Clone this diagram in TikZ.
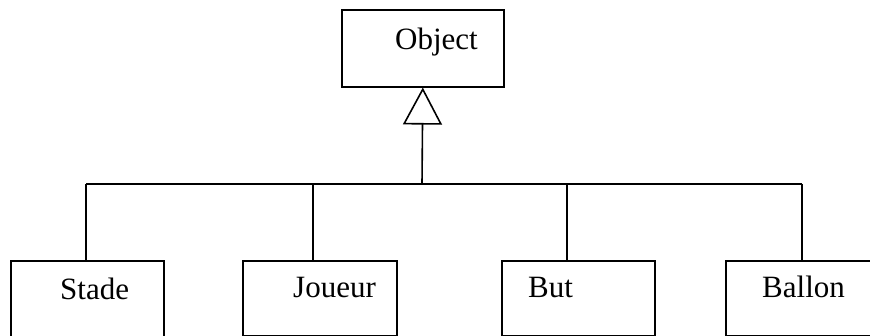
\documentclass[tikz,border=0pt]{standalone}
\usepackage{fontspec}
\setmainfont{Liberation Serif}
\usetikzlibrary{arrows.meta}
\begin{document}
\begin{tikzpicture}[x=1pt,y=1pt,
  box/.style={draw,line width=1.6pt,rectangle,anchor=north west,inner sep=0pt},
  lbl/.style={anchor=base west,inner sep=0pt,font=\fontsize{31}{36}\selectfont},
  conn/.style={line width=1.6pt}]
\useasboundingbox (0,0) rectangle (870,336);
\clip (0,0) rectangle (870,336);
% boxes
\node[box,minimum width=162pt,minimum height=77pt] (object) at (341,327) {};
\node[box,minimum width=153pt,minimum height=86pt] (stade) at (10,76) {};
\node[box,minimum width=154pt,minimum height=75pt] (joueur) at (242,76) {};
\node[box,minimum width=153pt,minimum height=75pt] (but) at (501,76) {};
\node[box,minimum width=160pt,minimum height=75pt] (ballon) at (725,76) {};
% labels
\node[lbl] (tobject) at (395,286) {Object};
\node[lbl] (tstade) at (60,36) {Stade};
\node[lbl] (tjoueur) at (293,38) {Joueur};
\node[lbl] (tbut) at (528,38) {But};
\node[lbl] (tballon) at (762,38) {Ballon};
% connectors
\coordinate (hub) at (422,152);
\coordinate (d1) at (86,152);
\coordinate (d2) at (313,152);
\coordinate (d3) at (567,152);
\coordinate (d4) at (802,152);
\draw[conn] (d1) -- (d4);
\draw[conn,-{Triangle[open,length=37pt,width=39pt,fill=white]}] (hub) -- (object.south);
\draw[conn] (d1) -- (d1 |- stade.north);
\draw[conn] (d2) -- (d2 |- joueur.north);
\draw[conn] (d3) -- (d3 |- but.north);
\draw[conn] (d4) -- (d4 |- ballon.north);
\end{tikzpicture}
\end{document}
